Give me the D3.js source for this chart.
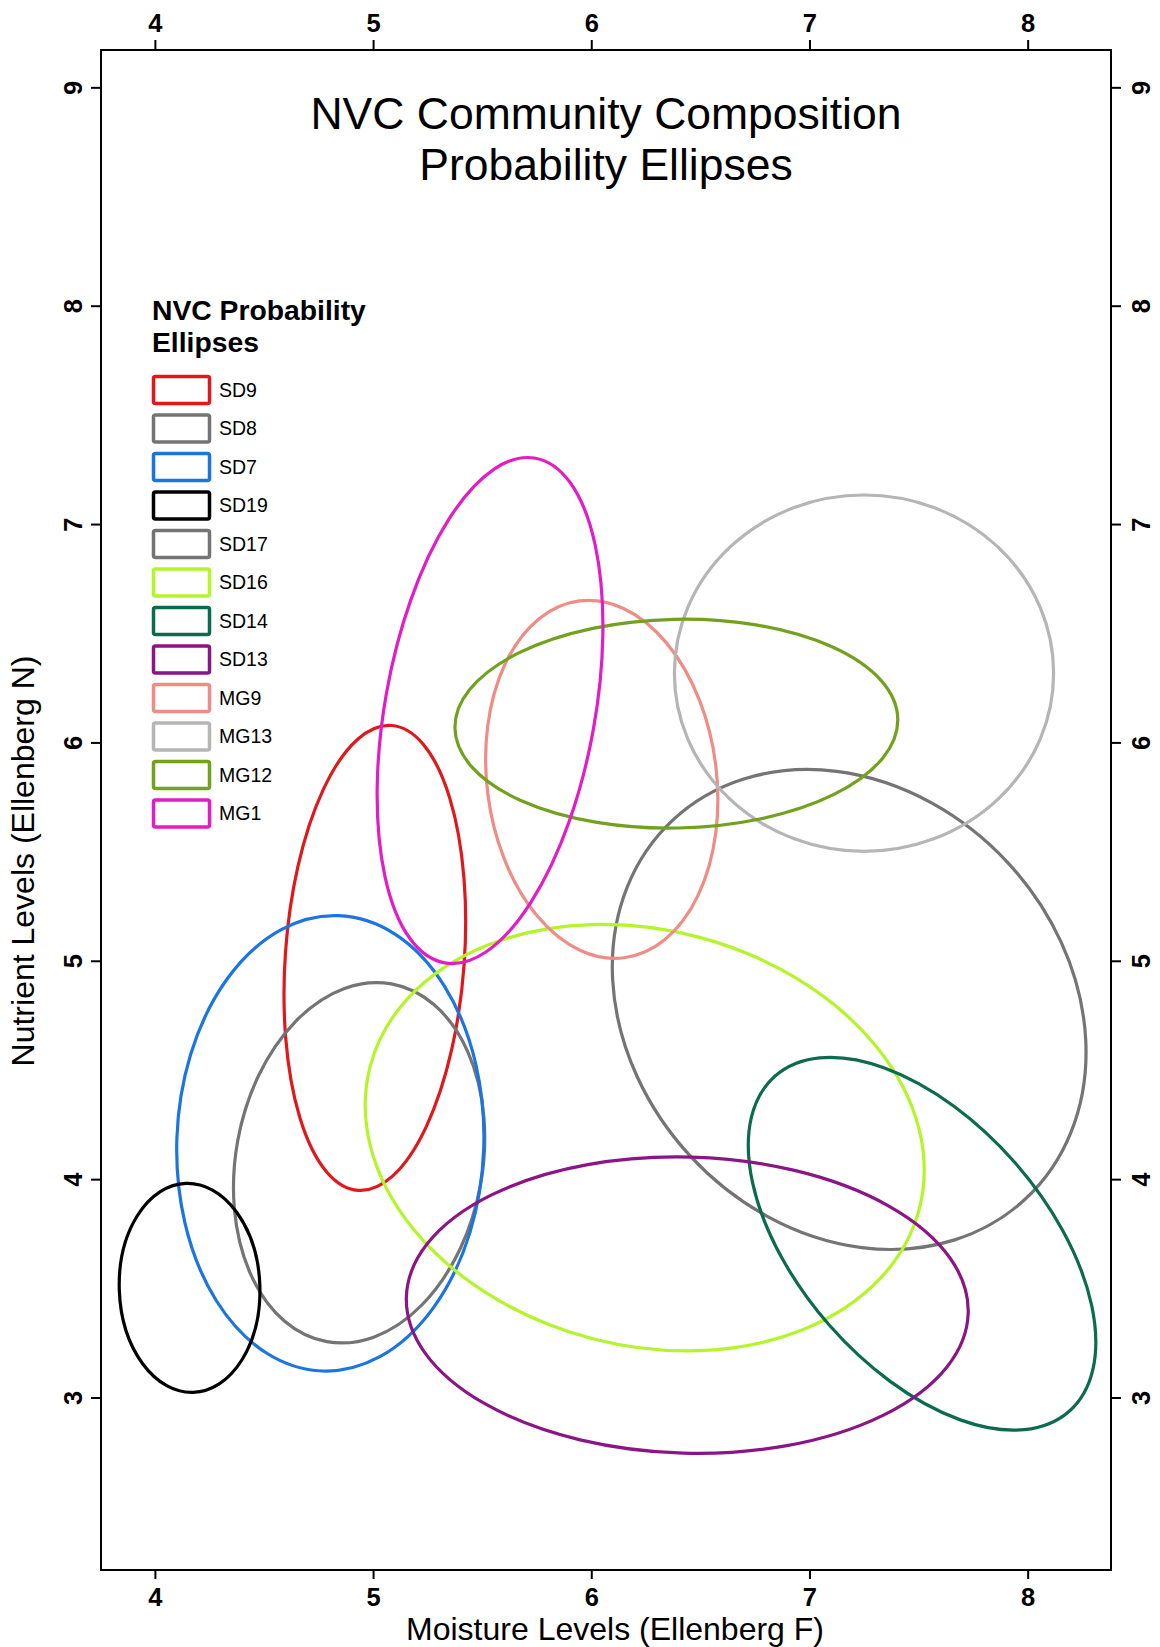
<!DOCTYPE html>
<html>
<head>
<meta charset="utf-8">
<script src="https://cdn.jsdelivr.net/npm/d3@7"></script>
<style>
  body { margin: 0; background: white; }
  svg text { font-family: "Liberation Sans", Arial, sans-serif; }
</style>
</head>
<body>
<div id="chart"></div>
<script>
const margin = { top: 50, right: 49, bottom: 77, left: 101 }
const sizing = { width: 1160, height: 1647 }
const innerW = sizing.width - margin.left - margin.right
const innerH = sizing.height - margin.top - margin.bottom

// ellipse data (Ellenberg F, Ellenberg N units)
const communities = ["SD9", "SD8", "SD7", "SD19", "SD17", "SD16", "SD14", "SD13", "MG9", "MG13", "MG12", "MG1"]
const colours = ["#e0181b", "#747474", "#1a74e2", "#000000", "#747474", "#b4f52a", "#0b6b4e", "#8b1586", "#ef8c85", "#b5b5b5", "#72a11e", "#e21cc6"]
const centreF = [5.008, 4.936, 4.804, 4.159, 7.182, 6.245, 7.516, 6.440, 6.048, 7.250, 6.390, 5.536]
const centreN = [5.013, 4.075, 4.164, 3.502, 4.777, 4.190, 3.704, 3.423, 5.831, 6.317, 6.086, 6.146]
const semiMajor = [1.068, 0.833, 1.044, 0.479, 1.186, 1.300, 1.022, 1.288, 0.824, 0.869, 1.015, 1.175]
const semiMinor = [0.410, 0.565, 0.703, 0.322, 0.990, 0.951, 0.565, 0.678, 0.526, 0.816, 0.478, 0.481]
const angleDeg = [85.9, 79.75, 88, 92, -47.1, -14.5, -48.8, -1.6, 97.1, 0, 1.2, 79.8]

const xTicks = [4, 5, 6, 7, 8]
const yTicks = [3, 4, 5, 6, 7, 8, 9]

const svg = d3.select("#chart").append("svg")
    .attr("width", sizing.width)
    .attr("height", sizing.height)

svg.append("rect").attr("width", "100%").attr("height", "100%").attr("fill", "white")

const g = svg.append("g").attr("transform", `translate(${margin.left},${margin.top})`)

const x = d3.scaleLinear().domain([3.753, 8.382]).range([0, innerW])
const y = d3.scaleLinear().domain([2.21, 9.171]).range([innerH, 0])

// ellipses
const data = communities.map((c, i) => ({
    name: c, colour: colours[i], f: centreF[i], n: centreN[i],
    a: semiMajor[i], b: semiMinor[i], ang: angleDeg[i]
}))

g.append("g").selectAll("ellipse")
    .data(data)
    .join("ellipse")
    .attr("cx", d => x(d.f))
    .attr("cy", d => y(d.n))
    .attr("rx", d => x(d.f + d.a) - x(d.f))
    .attr("ry", d => y(d.n) - y(d.n + d.b))
    .attr("transform", d => `rotate(${-d.ang},${x(d.f)},${y(d.n)})`)
    .attr("fill", "none")
    .attr("stroke", d => d.colour)
    .attr("stroke-width", 3.2)

// axes
const styleAxis = sel => {
    sel.select(".domain").remove()
    sel.selectAll("line").attr("stroke", "black").attr("stroke-width", 2)
    sel.selectAll("text")
        .attr("font-size", 25.5).attr("font-weight", "bold").attr("fill", "black")
        .attr("font-family", "'Liberation Sans', Arial, sans-serif")
}

g.append("g").attr("transform", `translate(0,${innerH})`)
    .call(d3.axisBottom(x).tickValues(xTicks).tickFormat(d3.format("d")).tickSize(9).tickSizeOuter(0))
    .call(styleAxis)
    .selectAll("text").attr("y", 36).attr("dy", 0)

g.append("g")
    .call(d3.axisTop(x).tickValues(xTicks).tickFormat(d3.format("d")).tickSize(10).tickSizeOuter(0))
    .call(styleAxis)
    .selectAll("text").attr("y", -18).attr("dy", 0)

g.append("g")
    .call(d3.axisLeft(y).tickValues(yTicks).tickFormat(d3.format("d")).tickSize(10).tickSizeOuter(0))
    .call(styleAxis)
    .selectAll("text")
    .attr("x", 0).attr("y", 0).attr("dy", 0)
    .attr("text-anchor", "middle")
    .attr("transform", "translate(-19,0) rotate(-90)")

g.append("g").attr("transform", `translate(${innerW},0)`)
    .call(d3.axisRight(y).tickValues(yTicks).tickFormat(d3.format("d")).tickSize(10).tickSizeOuter(0))
    .call(styleAxis)
    .selectAll("text")
    .attr("x", 0).attr("y", 0).attr("dy", 0)
    .attr("text-anchor", "middle")
    .attr("transform", "translate(39,0) rotate(-90)")

// frame
g.append("rect")
    .attr("width", innerW).attr("height", innerH)
    .attr("fill", "none").attr("stroke", "black").attr("stroke-width", 2)

// titles
const title = svg.append("text")
    .attr("text-anchor", "middle").attr("font-size", 44.5).attr("fill", "black")
title.append("tspan").attr("x", 606).attr("y", 129).text("NVC Community Composition")
title.append("tspan").attr("x", 606).attr("y", 180).text("Probability Ellipses")

svg.append("text")
    .attr("x", 615).attr("y", 1640)
    .attr("text-anchor", "middle").attr("font-size", 32)
    .text("Moisture Levels (Ellenberg F)")

svg.append("text")
    .attr("transform", "translate(34,861) rotate(-90)")
    .attr("text-anchor", "middle").attr("font-size", 32)
    .text("Nutrient Levels (Ellenberg N)")

// legend
const legend = svg.append("g").attr("transform", "translate(152,0)")
legend.append("text").attr("x", 0).attr("y", 320)
    .attr("font-size", 28.3).attr("font-weight", "bold").text("NVC Probability")
legend.append("text").attr("x", 0).attr("y", 352)
    .attr("font-size", 28.3).attr("font-weight", "bold").text("Ellipses")

const items = legend.selectAll("g.item")
    .data(data)
    .join("g").attr("class", "item")
    .attr("transform", (d, i) => `translate(0,${390 + i * 38.5})`)

items.append("rect")
    .attr("x", 1.5).attr("y", -13.5)
    .attr("width", 56).attr("height", 27).attr("rx", 2)
    .attr("fill", "none")
    .attr("stroke", d => d.colour)
    .attr("stroke-width", 3.5)

items.append("text")
    .attr("x", 67).attr("y", 0).attr("dy", "0.35em")
    .attr("font-size", 19.5)
    .text(d => d.name)
</script>
</body>
</html>
